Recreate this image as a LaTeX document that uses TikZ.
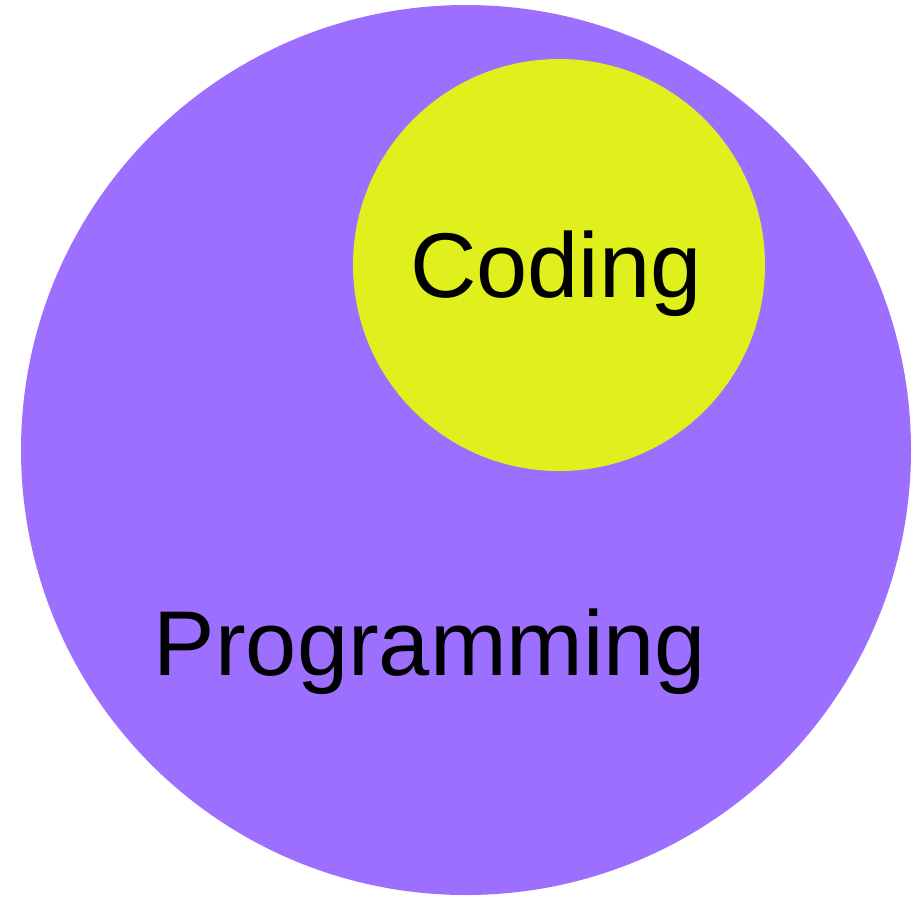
\documentclass[tikz,border=0pt]{standalone}
\usepackage{fontspec}
\setmainfont{Liberation Sans}
\definecolor{progpurple}{HTML}{9D6FFF}
\definecolor{codeyellow}{HTML}{DFF01D}
\tikzset{
  blob/.style={circle, draw=none, inner sep=0pt},
  word/.style={font=\fontsize{46}{50}\selectfont, text=black, anchor=base, inner sep=0pt},
}
\begin{document}
\begin{tikzpicture}[x=0.5pt,y=-0.5pt]
  \useasboundingbox (0,0) rectangle (914,896);
  % outer circle and the one inside it
  \node[blob, fill=progpurple, minimum size=445pt] (prog) at (466,450) {};
  \node[blob, fill=codeyellow, minimum size=206pt] (code) at (559,265) {};
  % labels
  \node[word] (codelbl) at (556,297) {Coding};
  \node[word] (proglbl) at (430,675) {Programming};
\end{tikzpicture}
\end{document}
